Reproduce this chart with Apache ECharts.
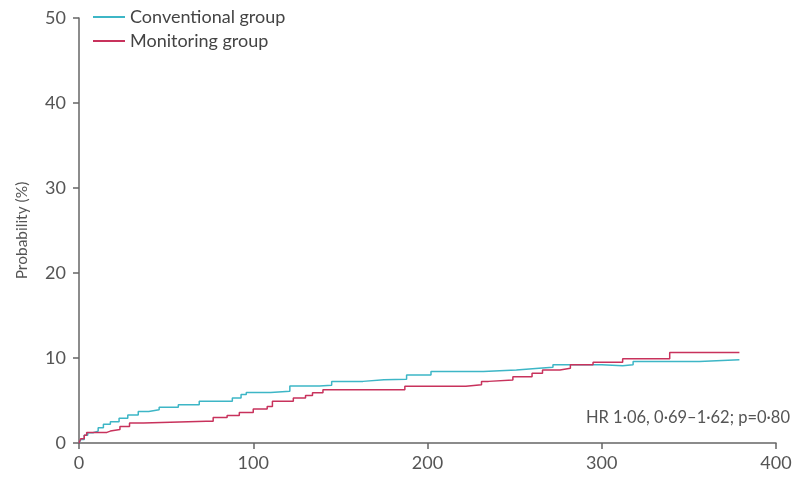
<!DOCTYPE html>
<html>
<head>
<meta charset="utf-8">
<script src="https://cdn.jsdelivr.net/npm/echarts@6/dist/echarts.min.js"></script>
<style>html,body{margin:0;padding:0;background:#fff}#c{width:796px;height:477px}</style>
</head>
<body>
<div id="c"></div>
<script>
var seriesNames = ['Conventional group', 'Monitoring group'];
var xTicks = [0, 100, 200, 300, 400];
var yTicks = [0, 10, 20, 30, 40, 50];
var annotation = 'HR 1·06, 0·69–1·62; p=0·80';

// Kaplan-Meier style cumulative probability (%) vs days
var conventional = [
  [0,0],[1,0.4],[3,0.9],[5,1.2],[8,1.4],[11,1.8],[14,2.2],[18,2.5],[23,2.9],[28,3.3],[34,3.7],[40,3.9],
  [46,4.2],[57,4.5],[69,4.9],[88,5.3],[93,5.7],[96,5.95],[110,6.1],[121,6.7],[138,6.8],[145,7.25],
  [163,7.45],[175,7.5],[188,8.0],[202,8.4],[232,8.6],[251,8.8],[264,8.9],[272,9.2],[290,9.2],
  [300,9.1],[312,9.2],[318,9.6],[356,9.8],[379,9.8]
];
var monitoring = [
  [0,0],[1,0.5],[3,0.9],[4.4,1.25],[16,1.4],[18,1.6],[23.5,1.95],[29,2.35],[37,2.55],[73,2.55],
  [77,3.0],[85,3.25],[92,3.6],[100,4.0],[108,4.3],[111,4.9],[123,5.3],[130,5.6],[134,5.9],[140,6.27],
  [187,6.67],[222,6.86],[231,7.25],[235,7.4],[249,7.8],[260,8.2],[266,8.6],[276,8.8],[282,9.2],
  [295,9.5],[312,9.9],[339,10.66],[379,10.66]
];
var colors = ['#3db6c6', '#c8325c'];

var chart = echarts.init(document.getElementById('c'));
var font = 'Lato, "Open Sans", sans-serif';
chart.setOption({
  animation: false,
  color: colors,
  grid: {left: 79, right: 20, top: 18, bottom: 34},
  legend: {
    orient: 'vertical', left: 93, top: 8, padding: 0, itemWidth: 32, itemHeight: 2, itemGap: 6,
    icon: 'rect',
    textStyle: {fontFamily: font, fontSize: 18, color: '#444'},
    data: seriesNames
  },
  xAxis: {
    type: 'value', min: xTicks[0], max: xTicks[xTicks.length-1], interval: 100,
    axisLine: {lineStyle: {color: '#666', width: 1.5}},
    axisTick: {show: true, length: 6, lineStyle: {color: '#666', width: 1.5}},
    axisLabel: {fontFamily: font, fontSize: 18, color: '#555', margin: 11},
    splitLine: {show: false}
  },
  yAxis: {
    type: 'value', min: yTicks[0], max: yTicks[yTicks.length-1], interval: 10,
    name: 'Probability (%)', nameLocation: 'middle', nameGap: 49,
    nameTextStyle: {fontFamily: font, fontSize: 15.5, color: '#555'},
    axisLine: {show: true, lineStyle: {color: '#666', width: 1.5}},
    axisTick: {show: true, length: 6, lineStyle: {color: '#666', width: 1.5}},
    axisLabel: {fontFamily: font, fontSize: 18, color: '#555', margin: 13},
    splitLine: {show: false}
  },
  graphic: [{
    type: 'text', right: 6, top: 409,
    style: {text: annotation, fontFamily: font, fontSize: 16.5, fill: '#555', textAlign: 'right'}
  }],
  series: [
    {name: seriesNames[0], type: 'line', step: 'end', symbol: 'none', data: conventional,
     lineStyle: {width: 1.5, color: colors[0]}},
    {name: seriesNames[1], type: 'line', step: 'end', symbol: 'none', data: monitoring,
     lineStyle: {width: 1.5, color: colors[1]}}
  ]
});
</script>
</body>
</html>
